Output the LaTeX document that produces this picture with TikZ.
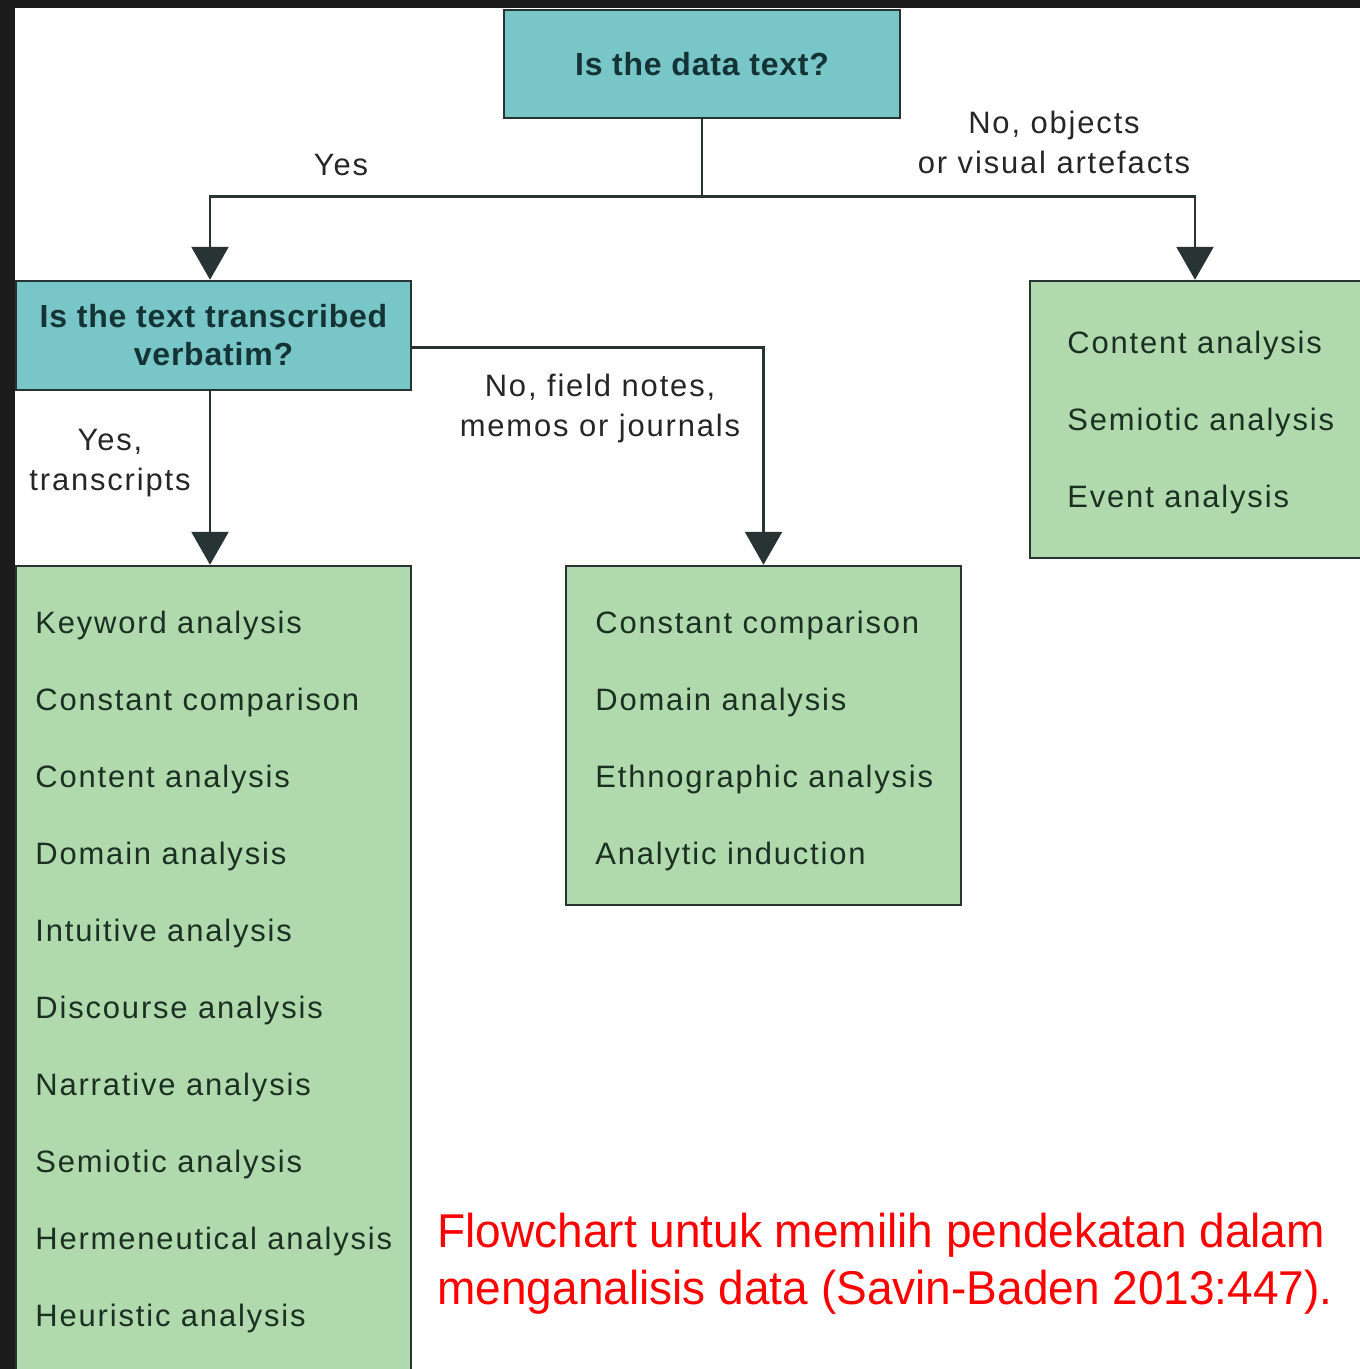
\documentclass[tikz,border=0pt]{standalone}
\usepackage{fontspec}
\setmainfont{Liberation Sans}
\newfontfamily\itemfont{Liberation Sans}[LetterSpace=6]
\newfontfamily\askfont{Liberation Sans}[LetterSpace=2.5]
\newfontfamily\capfont{Liberation Sans}[FakeStretch=0.97]
\usetikzlibrary{arrows.meta}
\definecolor{askteal}{HTML}{79C6C8}
\definecolor{listgreen}{HTML}{B0DAAD}
\definecolor{edgegray}{HTML}{283333}
\definecolor{listtext}{HTML}{1C3022}
\definecolor{asktext}{HTML}{143335}
\definecolor{framedark}{HTML}{1C1C1C}
\tikzset{
  question/.style={draw=edgegray, fill=askteal, line width=0.05cm, inner sep=0, align=center,
    text=asktext, font=\askfont\bfseries\fontsize{18.2pt}{0.76cm}\selectfont},
  listbox/.style={draw=edgegray, fill=listgreen, line width=0.05cm, inner sep=0},
  entry/.style={anchor=base west, inner sep=0, text=listtext, font=\itemfont\fontsize{17.6pt}{21pt}\selectfont},
  answer/.style={inner sep=0, align=center, text=black!85, font=\itemfont\fontsize{17.6pt}{0.8cm}\selectfont},
  link/.style={draw=edgegray, line width=0.05cm},
  flow/.style={link, -{Triangle[width=0.74cm,length=0.66cm]}}
}
\begin{document}
\begin{tikzpicture}
  % Frame
  \useasboundingbox (0,0) rectangle (27.2,-27.38);
  \clip (0,0) rectangle (27.2,-27.38);
  \fill[framedark] (0,0) rectangle (27.2,-27.38);
  \fill[white] (0.3,-0.16) rectangle (27.2,-27.38);
  % Questions
  \node[question, minimum width=7.92cm, minimum height=2.16cm] (datatext) at (14.04,-1.28) {Is the data text?};
  \node[question, minimum width=7.9cm, minimum height=2.18cm] (verbatim) at (4.27,-6.71) {Is the text transcribed\\verbatim?};
  % Answer boxes
  \node[listbox, minimum width=7.4cm, minimum height=5.54cm] (objects) at (24.3,-8.39) {};
  \node[listbox, minimum width=7.9cm, minimum height=6.78cm] (notes) at (15.27,-14.71) {};
  \node[listbox, minimum width=7.9cm, minimum height=16.6cm] (transcripts) at (4.27,-19.62) {};
  % Connectors
  \coordinate (fork) at (14.04,-3.93);
  \draw[link] (datatext.south) -- (fork);
  \draw[flow] (fork) -| ([xshift=-0.07cm]verbatim.north);
  \draw[flow] (fork) -| ([xshift=-0.4cm]objects.north);
  \draw[flow] ([yshift=-0.24cm]verbatim.east) -| (notes.north);
  \draw[flow] ([xshift=-0.07cm]verbatim.south) -- ([xshift=-0.07cm]transcripts.north);
  % Branch labels
  \node[answer, anchor=base] (yes) at (6.82,-3.5) {Yes};
  \node[answer] (objlabel) at (21.08,-2.85) {No, objects\\or visual artefacts};
  \node[answer] (noteslabel) at (12.0,-8.16) {No, field notes,\\memos or journals};
  \node[answer] (translabel) at (2.2,-9.27) {Yes,\\transcripts};
  % Lists
  \foreach \entry [count=\i from 0] in {Content analysis, Semiotic analysis, Event analysis}
    \node[entry] at (21.34,{-7.06-1.54*\i}) {\entry};
  \foreach \entry [count=\i from 0] in {Constant comparison, Domain analysis, Ethnographic analysis, Analytic induction}
    \node[entry] at (11.9,{-12.66-1.54*\i}) {\entry};
  \foreach \entry [count=\i from 0] in {Keyword analysis, Constant comparison, Content analysis, Domain analysis,
      Intuitive analysis, Discourse analysis, Narrative analysis, Semiotic analysis,
      Hermeneutical analysis, Heuristic analysis}
    \node[entry] at (0.7,{-12.66-1.54*\i}) {\entry};
  % Caption
  \node[anchor=west, inner sep=0, align=left, text=red, font=\capfont\fontsize{27pt}{32.4pt}\selectfont]
    (caption) at (8.74,-25.27) {Flowchart untuk memilih pendekatan dalam\\menganalisis data (Savin-Baden 2013:447).};
\end{tikzpicture}
\end{document}
